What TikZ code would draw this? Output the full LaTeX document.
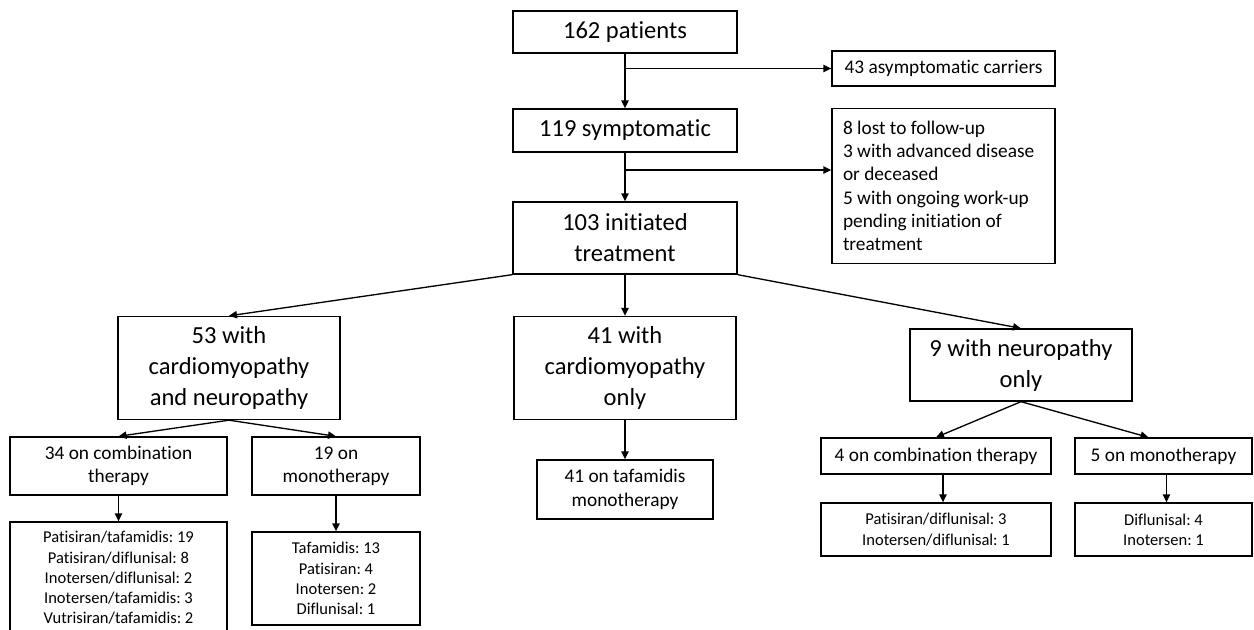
\documentclass[tikz,border=0pt]{standalone}
\usepackage{fontspec}
\setmainfont{Carlito}[Ligatures=NoCommon]
\frenchspacing
\usetikzlibrary{arrows.meta,calc}
\begin{document}
\begin{tikzpicture}[x=0.75pt,y=-0.75pt,
  box/.style={draw,line width=1pt,inner sep=0pt,align=center},
  big/.style={font=\fontsize{18.4}{23.25}\selectfont},
  mid/.style={font=\fontsize{14.5}{17.5}\selectfont},
  sml/.style={font=\fontsize{12.4}{15.2}\selectfont},
  arr/.style={line width=1pt,-{Triangle[length=6pt,width=5.5pt]}}]
\useasboundingbox (0,0) rectangle (1254,629);
% top column
\node[box,big,minimum width=168pt,minimum height=31.5pt] (p162) at (625,32) {162 patients};
\node[box,mid,minimum width=167.25pt,minimum height=26.25pt] (asym) at (943.5,68.5) {43 asymptomatic carriers};
\node[box,big,minimum width=168pt,minimum height=32.25pt] (s119) at (625,130.5) {119 symptomatic};
\node[box,mid,align=flush left,text width=150.75pt,inner xsep=8.25pt,minimum height=116.25pt] (lost) at (943.5,186)
  {8 lost to follow-up\\3 with advanced disease\\or deceased\\5 with ongoing work-up\\pending initiation of\\treatment};
\node[box,big,minimum width=168pt,minimum height=54pt] (i103) at (625,238) {103 initiated\\treatment};
% second level
\node[box,big,minimum width=166.5pt,minimum height=77.25pt] (cn53) at (229,368) {53 with\\cardiomyopathy\\and neuropathy};
\node[box,big,minimum width=166.5pt,minimum height=77.25pt] (c41) at (625,368) {41 with\\cardiomyopathy\\only};
\node[box,big,minimum width=166.5pt,minimum height=54pt] (n9) at (1021,365) {9 with neuropathy\\only};
% third level
\node[box,mid,minimum width=162.75pt,minimum height=43.5pt] (comb34) at (118.5,466) {34 on combination\\therapy};
\node[box,mid,minimum width=126pt,minimum height=43.5pt] (mono19) at (336,466) {19 on\\monotherapy};
\node[box,mid,minimum width=132pt,minimum height=44.25pt] (taf41) at (625,489.5) {41 on tafamidis\\monotherapy};
\node[box,mid,minimum width=172.5pt,minimum height=27pt] (comb4) at (936,456) {4 on combination therapy};
\node[box,mid,minimum width=132.75pt,minimum height=27pt] (mono5) at (1163.5,456) {5 on monotherapy};
% lists
\node[box,sml,minimum width=162.75pt,minimum height=84pt] (list34) at (118.5,578)
  {Patisiran/tafamidis: 19\\Patisiran/diflunisal: 8\\Inotersen/diflunisal: 2\\Inotersen/tafamidis: 3\\Vutrisiran/tafamidis: 2};
\node[box,sml,minimum width=126pt,minimum height=69.75pt] (list19) at (336,578.5)
  {Tafamidis: 13\\Patisiran: 4\\Inotersen: 2\\Diflunisal: 1};
\node[box,sml,minimum width=172.5pt,minimum height=39.75pt] (list4) at (936,529.5)
  {Patisiran/diflunisal: 3\\Inotersen/diflunisal: 1};
\node[box,sml,minimum width=132.75pt,minimum height=39.75pt] (list5) at (1163.5,529.5)
  {Diflunisal: 4\\Inotersen: 1};
% connectors
\draw[arr] (p162.south) -- (s119.north);
\draw[arr] (p162.south |- asym.west) -- (asym.west);
\draw[arr] (s119.south) -- (i103.north);
\coordinate (b2) at (625,170);
\draw[arr] (b2) -- (b2 -| lost.west);
\draw[arr] (i103.south west) -- (cn53.north);
\draw[arr] (i103.south) -- (c41.north);
\draw[arr] (i103.south east) -- (n9.north);
\draw[arr] (cn53.south) -- (comb34.north);
\draw[arr] (cn53.south) -- (mono19.north);
\draw[arr] (comb34.south) -- (list34.north);
\draw[arr] (mono19.south) -- (list19.north);
\draw[arr] (c41.south) -- (taf41.north);
\draw[arr] (n9.south) -- (comb4.north);
\draw[arr] (n9.south) -- ($(mono5.north)+(-15,0)$);
\draw[arr] ($(comb4.south)+(7,0)$) -- ($(list4.north)+(7,0)$);
\draw[arr] ($(mono5.south)+(3,0)$) -- ($(list5.north)+(3,0)$);
\end{tikzpicture}
\end{document}
